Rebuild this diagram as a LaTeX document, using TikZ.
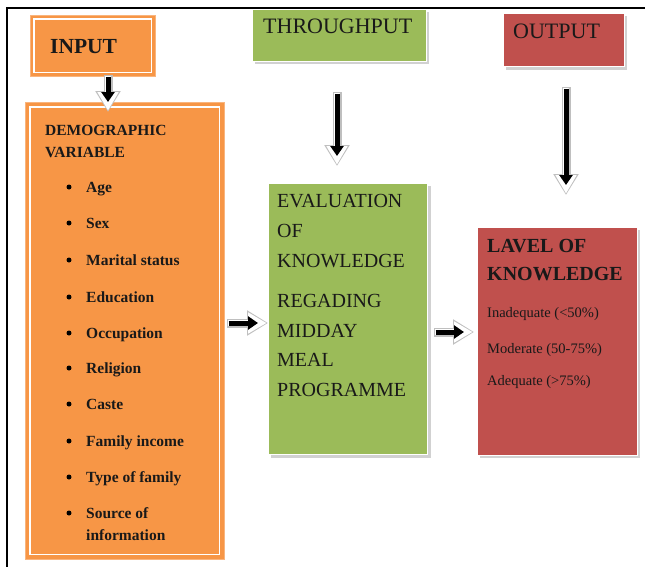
\documentclass[tikz,border=0pt]{standalone}
\usepackage{fontspec}
\setmainfont{Liberation Serif}
\usetikzlibrary{arrows.meta,calc}
\definecolor{boxorange}{HTML}{F79646}
\definecolor{boxgreen}{HTML}{9BBB59}
\definecolor{boxred}{HTML}{C0504D}
\tikzset{
  obox/.style={rectangle, fill=boxorange, draw=boxorange!70, line width=0.6pt, anchor=north west, inner sep=0pt},
  sbox/.style={rectangle, draw=white, line width=1.2pt, anchor=north west, inner sep=0pt},
  shadowbox/.style={fill=black!18},
  lbl/.style={anchor=base west, inner sep=0pt, text=black!90},
  headtxt/.style={lbl, font=\fontsize{22}{24}\selectfont},
  demotxt/.style={lbl, font=\bfseries\fontsize{15.5}{18}\selectfont},
  evaltxt/.style={lbl, font=\fontsize{20}{22}\selectfont},
  redhead/.style={lbl, font=\bfseries\fontsize{20}{22}\selectfont},
  redtxt/.style={lbl, font=\fontsize{14.5}{17}\selectfont},
  bul/.style={circle, fill=black, inner sep=0pt, minimum size=5pt},
  arrowhalo/.style={line width=9pt, draw=black!25, -{Triangle[length=21pt,width=24pt]}},
  arrowwhite/.style={line width=6.6pt, draw=white, -{Triangle[length=18.5pt,width=20pt]}, shorten >=1.4pt, shorten <=1.2pt},
  arrowcore/.style={line width=5pt, draw=black, -{Triangle[length=10pt,width=13pt]}, shorten >=10pt, shorten <=1.5pt},
}
\newcommand{\blkarrow}[2]{%
  \draw[arrowhalo] (#1) -- (#2);
  \draw[arrowwhite] (#1) -- (#2);
  \draw[arrowcore] (#1) -- (#2);
}
\begin{document}
\begin{tikzpicture}[x=1pt,y=-1pt]
\useasboundingbox (0,0) rectangle (645,566);
\fill[white] (0,0) rectangle (645,566);
% frame
\draw[line width=2.2pt] (7,568) -- (7,8) -- (647,8);

% INPUT box
\node[obox, minimum width=125pt, minimum height=61pt] (input) at (30,15) {};
\draw[white, line width=1.3pt] ([shift={(4,4)}]input.north west) rectangle ([shift={(-4,-4)}]input.south east);
\node[headtxt, font=\bfseries\fontsize{21.5}{24}\selectfont] (inputt) at (50,53) {INPUT};

% THROUGHPUT box
\fill[shadowbox] (255,12) rectangle (429,64);
\node[sbox, fill=boxgreen, minimum width=174pt, minimum height=52pt] (through) at (252,9) {};
\node[headtxt] (throught) at (263,33) {THROUGHPUT};

% OUTPUT box
\fill[shadowbox] (506,16) rectangle (627,70);
\node[sbox, fill=boxred, minimum width=121pt, minimum height=53pt] (output) at (503,13) {};
\node[headtxt] (outputt) at (513,38) {OUTPUT};

% demographic box
\node[obox, minimum width=199pt, minimum height=457pt] (demo) at (25,102) {};
\draw[white, line width=1.4pt] ([shift={(5,5)}]demo.north west) rectangle ([shift={(-5,-5)}]demo.south east);
\node[demotxt] (d1) at (45,135) {DEMOGRAPHIC};
\node[demotxt] (d2) at (45,157) {VARIABLE};
\foreach \y/\t [count=\i] in {192/Age,228/Sex,265/Marital status,302/Education,338/Occupation,373/Religion,409/Caste,446/Family income,482/Type of family,518/Source of}{
  \node[demotxt] (item\i) at (86,\y) {\t};
  \node[bul] (bul\i) at (69,\y-5) {};
}
\node[demotxt] (item11) at (86,540) {information};

% evaluation box
\fill[shadowbox] (271,186) rectangle (431,458);
\node[sbox, fill=boxgreen, minimum width=159pt, minimum height=271pt] (eval) at (268,183) {};
\foreach \y/\t [count=\i] in {207/EVALUATION,237/OF,267/KNOWLEDGE,307/REGADING,337/MIDDAY,366/MEAL,396/PROGRAMME}{
  \node[evaltxt] (ev\i) at (277,\y) {\t};
}

% level box
\fill[shadowbox] (480,230) rectangle (640,458);
\node[sbox, fill=boxred, minimum width=160pt, minimum height=228pt] (level) at (477,227) {};
\node[redhead] (lv1) at (487,252) {LAVEL OF};
\node[redhead] (lv2) at (487,280) {KNOWLEDGE};
\node[redtxt] (lv3) at (487,317) {Inadequate (<50\%)};
\node[redtxt] (lv4) at (487,353) {Moderate (50-75\%)};
\node[redtxt] (lv5) at (487,385) {Adequate (>75\%)};

% arrows
\coordinate (a1s) at (108,75);
\coordinate (a1e) at (108,112);
\coordinate (a2s) at (337,92);
\coordinate (a2e) at (337,166);
\coordinate (a3s) at (566,87);
\coordinate (a3e) at (566,195);
\coordinate (a4s) at (227,323);
\coordinate (a4e) at (268,323);
\coordinate (a5s) at (434,332);
\coordinate (a5e) at (474,332);
\blkarrow{a1s}{a1e}
\blkarrow{a2s}{a2e}
\blkarrow{a3s}{a3e}
\blkarrow{a4s}{a4e}
\blkarrow{a5s}{a5e}
\end{tikzpicture}
\end{document}
